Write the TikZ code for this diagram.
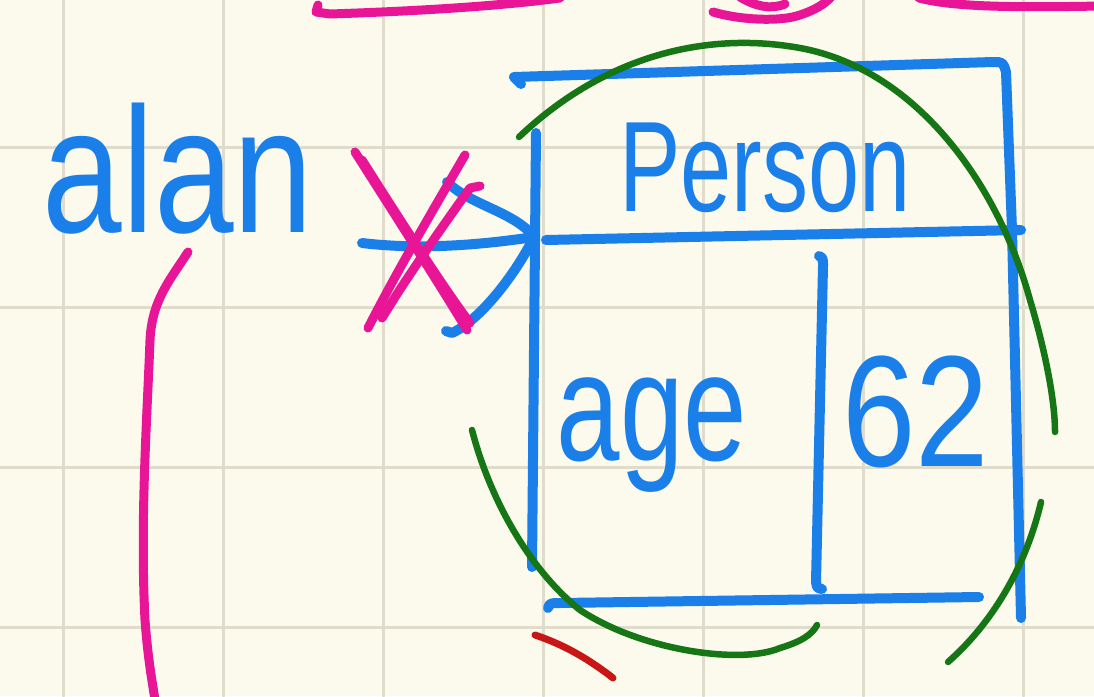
\documentclass[tikz,border=0pt]{standalone}
\usepackage{fontspec}
\setmainfont{Liberation Sans}
\usepackage{graphicx}
\definecolor{paper}{RGB}{252,250,237}
\definecolor{gridc}{RGB}{224,220,203}
\definecolor{ink}{RGB}{26,127,232}
\definecolor{pink}{RGB}{232,22,150}
\definecolor{grn}{RGB}{22,118,22}
\definecolor{rd}{RGB}{200,22,22}
\begin{document}
\begin{tikzpicture}[x=1pt,y=-1pt,line cap=round,line join=round,
  bluestroke/.style={draw=ink,line width=10pt},
  pinkstroke/.style={draw=pink,line width=9pt},
  greenstroke/.style={draw=grn,line width=6.5pt},
  redstroke/.style={draw=rd,line width=7pt},
  gridline/.style={draw=gridc,line width=3pt},
  handtext/.style={text=ink,inner sep=0pt,anchor=base}]
% paper
\fill[paper] (0,0) rectangle (1094,696);
\useasboundingbox (0,0) rectangle (1094,696);
\foreach \gx in {63,223,383,543,703,863,1023} \draw[gridline] (\gx,0) -- (\gx,696);
\foreach \gy in {147,307,467,627} \draw[gridline] (0,\gy) -- (1094,\gy);

% top magenta strokes (cut off)
\draw[pinkstroke] (318,5) -- (316,12) -- (330,14) .. controls (420,11) and (500,6) .. (560,-2);
\draw[pinkstroke] (713,12) .. controls (740,20) and (780,22) .. (800,15) .. controls (815,10) and (825,4) .. (832,-4);
\draw[pinkstroke] (740,-3) .. controls (755,6) and (770,10) .. (785,4);
\draw[pinkstroke] (919,-2) .. controls (950,6) and (1000,8) .. (1100,6);

% texts
\node[handtext] (alan) at (178,232) {\fontsize{143}{150}\selectfont\scalebox{1}[1.25]{alan}};
\node[handtext] (person) at (765,211) {\fontsize{92}{100}\selectfont\scalebox{1}[1.4]{Person}};
\node[handtext] (age) at (652,460) {\fontsize{114}{120}\selectfont\scalebox{1}[1.35]{age}};
\node[handtext] (val) at (916,466) {\fontsize{132}{140}\selectfont\scalebox{1}[1.2]{62}};

% box (hand drawn)
\coordinate (boxTL) at (514,77);
\coordinate (boxTR) at (993,62);
\coordinate (boxL) at (534,237);
\draw[bluestroke] (521,84) -- (boxTL) -- (boxTR) .. controls (1003,62) .. (1006,72) -- (1012,230) -- (1021,618);
\draw[bluestroke] (536,133) -- (532,567);
\draw[bluestroke] (546,240) -- (1021,230);
\draw[bluestroke] (548,608) .. controls (550,603) .. (560,603) -- (979,597);
\draw[bluestroke] (819,256) .. controls (823,258) .. (823,266) -- (816,582) .. controls (817,588) .. (822,589);

% arrow from alan to box
\coordinate (arrowStart) at (362,243);
\draw[bluestroke] (arrowStart) .. controls (420,250) and (480,245) .. (boxL);
\draw[bluestroke] (447,182) .. controls (470,205) and (515,212) .. (boxL) .. controls (515,275) and (480,320) .. (452,333) -- (446,331);

% magenta cross
\draw[pinkstroke] (355,152) .. controls (395,215) and (440,285) .. (467,330);
\draw[pinkstroke] (362,160) .. controls (400,220) and (445,290) .. (470,323);
\draw[pinkstroke] (465,155) .. controls (430,215) and (395,275) .. (368,328);
\draw[pinkstroke] (480,186) -- (470,188) .. controls (440,230) and (405,280) .. (382,318);

% magenta line down from alan
\draw[pinkstroke] (188,252) .. controls (170,280) and (152,300) .. (150,340) .. controls (147,420) and (140,520) .. (145,620) .. controls (148,660) and (152,680) .. (155,700);

% green ellipse arcs
\draw[greenstroke] (519,137) .. controls (600,60) and (700,30) .. (800,48) .. controls (920,70) and (1000,190) .. (1030,300) .. controls (1045,350) and (1055,400) .. (1055,432);
\draw[greenstroke] (472,430) .. controls (490,500) and (530,570) .. (580,610) .. controls (640,650) and (740,665) .. (780,648) .. controls (800,642) and (812,635) .. (817,625);
\draw[greenstroke] (1041,502) .. controls (1025,570) and (990,625) .. (948,662);

% red stroke
\draw[redstroke] (535,635) .. controls (565,645) and (590,660) .. (613,678);
\end{tikzpicture}
\end{document}
